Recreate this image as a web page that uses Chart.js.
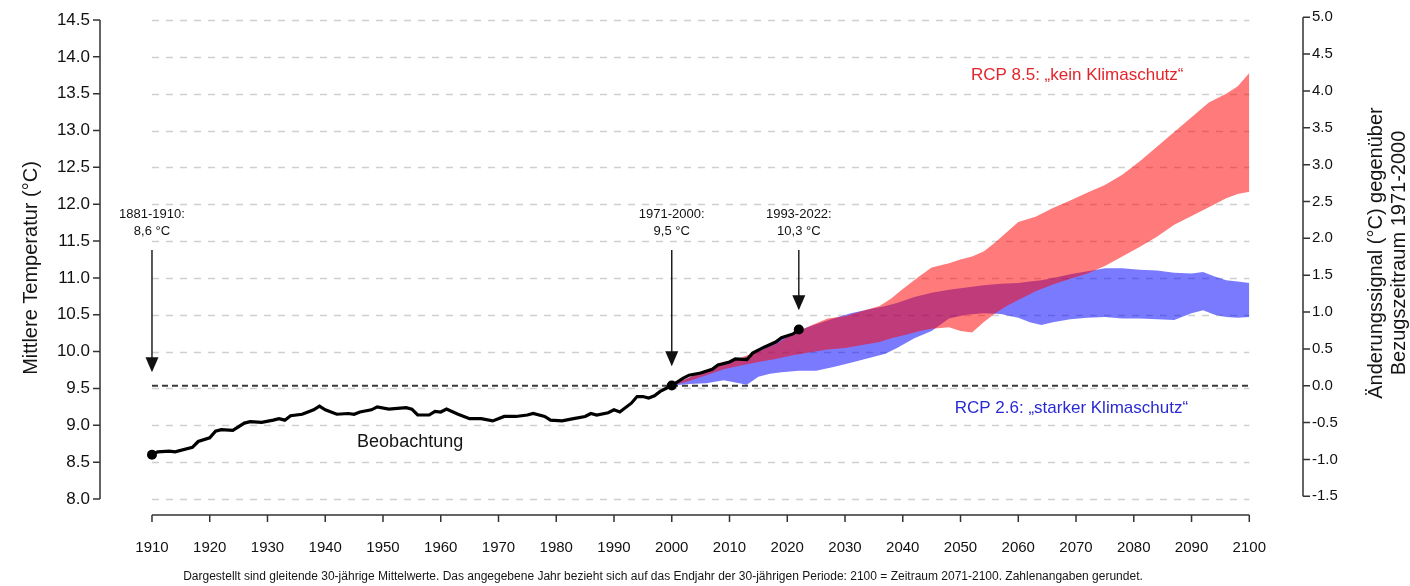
<!DOCTYPE html>
<html lang="de">
<head>
<meta charset="utf-8">
<script src="https://cdn.jsdelivr.net/npm/chart.js@4.4.1/dist/chart.umd.min.js"></script>
<style>
  html, body { margin: 0; padding: 0; background: #fff; }
  #wrap { width: 1410px; height: 586px; }
</style>
</head>
<body>
<div id="wrap"><canvas id="chart" width="1410" height="586"></canvas></div>
<script>
// observed 30-year running means (end year of period)
const obsYears = [1910, 1911, 1913, 1914, 1917, 1918, 1920, 1921, 1922, 1924, 1926, 1927, 1929, 1931, 1932, 1933, 1934, 1936, 1938, 1939,
  1940, 1942, 1944, 1945, 1946, 1948, 1949, 1951, 1954, 1955, 1956, 1958, 1959, 1960, 1961, 1963, 1965, 1967, 1969, 1971,
  1973, 1975, 1976, 1978, 1979, 1981, 1983, 1985, 1986, 1987, 1989, 1990, 1991, 1993, 1994, 1995, 1996, 1997, 1998, 2000,
  2002, 2003, 2005, 2007, 2008, 2010, 2011, 2013, 2014, 2016, 2018, 2019, 2021, 2022];
const obsTemp = [8.60, 8.64, 8.65, 8.64, 8.70, 8.78, 8.83, 8.92, 8.94, 8.93, 9.03, 9.05, 9.04, 9.07, 9.09, 9.07, 9.13, 9.15, 9.21, 9.26,
  9.21, 9.15, 9.16, 9.15, 9.18, 9.21, 9.25, 9.22, 9.24, 9.22, 9.14, 9.14, 9.19, 9.18, 9.22, 9.15, 9.09, 9.09, 9.06, 9.12,
  9.12, 9.14, 9.16, 9.12, 9.07, 9.06, 9.09, 9.12, 9.16, 9.14, 9.17, 9.21, 9.18, 9.30, 9.39, 9.39, 9.37, 9.40, 9.46, 9.54,
  9.64, 9.68, 9.71, 9.76, 9.82, 9.86, 9.90, 9.89, 9.98, 10.06, 10.13, 10.19, 10.24, 10.30];
const markedYears = [1910, 2000, 2022];

// RCP 8.5 range
const rcp85Years = [2000, 2003, 2006, 2009, 2012, 2015, 2018, 2021, 2024, 2027, 2030, 2033, 2036, 2038, 2040, 2043, 2045, 2048, 2050,
  2052, 2054, 2056, 2058, 2060, 2063, 2066, 2069, 2072, 2075, 2078, 2081, 2084, 2087, 2090, 2093, 2096, 2098, 2100];
const rcp85Upper = [9.54, 9.65, 9.75, 9.84, 9.92, 10.00, 10.10, 10.24, 10.35, 10.45, 10.48, 10.55, 10.62, 10.72, 10.85, 11.03, 11.14, 11.20, 11.25,
  11.29, 11.36, 11.48, 11.62, 11.76, 11.83, 11.95, 12.05, 12.16, 12.26, 12.40, 12.58, 12.78, 12.98, 13.18, 13.38, 13.50, 13.60, 13.78];
const rcp85Lower = [9.54, 9.60, 9.68, 9.76, 9.81, 9.86, 9.90, 9.95, 9.99, 10.03, 10.05, 10.09, 10.13, 10.18, 10.22, 10.28, 10.31, 10.33, 10.28,
  10.26, 10.40, 10.52, 10.62, 10.70, 10.82, 10.91, 10.99, 11.06, 11.16, 11.29, 11.42, 11.56, 11.72, 11.84, 11.96, 12.08, 12.14, 12.17];

// RCP 2.6 range
const rcp26Years = [2000, 2003, 2006, 2009, 2011, 2013, 2015, 2017, 2019, 2022, 2025, 2028, 2031, 2034, 2037, 2039, 2042, 2045, 2048, 2051,
  2054, 2057, 2060, 2062, 2064, 2066, 2069, 2072, 2075, 2078, 2081, 2084, 2087, 2090, 2092, 2094, 2096, 2098, 2100];
const rcp26Upper = [9.54, 9.65, 9.74, 9.83, 9.88, 9.93, 10.00, 10.08, 10.17, 10.29, 10.37, 10.45, 10.52, 10.57, 10.62, 10.66, 10.74, 10.80, 10.84, 10.87,
  10.90, 10.92, 10.93, 10.95, 10.97, 11.00, 11.05, 11.09, 11.13, 11.13, 11.11, 11.10, 11.07, 11.06, 11.08, 11.02, 10.97, 10.95, 10.93];
const rcp26Lower = [9.54, 9.56, 9.57, 9.61, 9.58, 9.55, 9.66, 9.70, 9.72, 9.74, 9.74, 9.79, 9.85, 9.91, 9.97, 10.05, 10.18, 10.28, 10.45, 10.50,
  10.52, 10.51, 10.46, 10.40, 10.36, 10.40, 10.44, 10.46, 10.47, 10.45, 10.45, 10.44, 10.43, 10.52, 10.56, 10.50, 10.47, 10.46, 10.47];

const yearTicks = [1910, 1920, 1930, 1940, 1950, 1960, 1970, 1980, 1990, 2000, 2010, 2020, 2030, 2040, 2050, 2060, 2070, 2080, 2090, 2100];
const tempTicks = [8.0, 8.5, 9.0, 9.5, 10.0, 10.5, 11.0, 11.5, 12.0, 12.5, 13.0, 13.5, 14.0, 14.5];
const signalTicks = [-1.5, -1.0, -0.5, 0.0, 0.5, 1.0, 1.5, 2.0, 2.5, 3.0, 3.5, 4.0, 4.5, 5.0];

const baseline = 9.537; // 1971-2000 mean, zero of the right axis
const yMin = 7.783, yMax = 14.771;

const callouts = [
  { year: 1910, lines: ['1881-1910:', '8,6 °C'], top: 11.38, tip: 9.72 },
  { year: 2000, lines: ['1971-2000:', '9,5 °C'], top: 11.38, tip: 9.80 },
  { year: 2022, lines: ['1993-2022:', '10,3 °C'], top: 11.38, tip: 10.56 }
];
const seriesLabels = [
  { text: 'Beobachtung', year: 1954.7, value: 8.77, color: '#151515', size: 18 },
  { text: 'RCP 8.5: „kein Klimaschutz“', year: 2070.2, value: 13.75, color: '#e3252b', size: 17 },
  { text: 'RCP 2.6: „starker Klimaschutz“', year: 2069.2, value: 9.235, color: '#2a2ad4', size: 17 }
];
const footnote = 'Dargestellt sind gleitende 30-jährige Mittelwerte. Das angegebene Jahr bezieht sich auf das Endjahr der 30-jährigen Periode: 2100 = Zeitraum 2071-2100. Zahlenangaben gerundet.';

const FONT = '"Liberation Sans", Arial, sans-serif';
const toPoints = (xs, ys) => xs.map((x, i) => ({ x: x, y: ys[i] }));

const decorations = {
  id: 'decorations',
  beforeDatasetsDraw(chart) {
    const { ctx, scales } = chart;
    const x = scales.x, y = scales.y;
    const x0 = x.getPixelForValue(yearTicks[0]);
    const x1 = x.getPixelForValue(yearTicks[yearTicks.length - 1]);
    ctx.save();
    ctx.strokeStyle = '#cfcfcf';
    ctx.lineWidth = 1.5;
    ctx.setLineDash([7, 7]);
    tempTicks.forEach(v => {
      const py = Math.round(y.getPixelForValue(v)) + 0.5;
      ctx.beginPath();
      ctx.moveTo(x0, py);
      ctx.lineTo(x1, py);
      ctx.stroke();
    });
    // zero line of the change signal
    ctx.strokeStyle = '#3a3a3a';
    ctx.lineWidth = 2;
    ctx.setLineDash([6, 4]);
    const pz = scales.y2.getPixelForValue(0);
    ctx.beginPath();
    ctx.moveTo(x0, pz);
    ctx.lineTo(x1, pz);
    ctx.stroke();
    ctx.restore();
  },
  afterDatasetsDraw(chart) {
    const { ctx, scales } = chart;
    const x = scales.x, y = scales.y, y2 = scales.y2;
    const area = chart.chartArea;
    ctx.save();
    ctx.strokeStyle = '#333';
    ctx.lineWidth = 1.5;
    ctx.setLineDash([]);

    // left axis
    let ax = area.left;
    ctx.beginPath();
    ctx.moveTo(ax, y.getPixelForValue(tempTicks[0]));
    ctx.lineTo(ax, y.getPixelForValue(tempTicks[tempTicks.length - 1]));
    tempTicks.forEach(v => {
      const py = y.getPixelForValue(v);
      ctx.moveTo(ax, py);
      ctx.lineTo(ax - 7, py);
    });
    ctx.stroke();

    // right axis
    ax = area.right;
    ctx.beginPath();
    ctx.moveTo(ax, y2.getPixelForValue(signalTicks[0]));
    ctx.lineTo(ax, y2.getPixelForValue(signalTicks[signalTicks.length - 1]));
    signalTicks.forEach(v => {
      const py = y2.getPixelForValue(v);
      ctx.moveTo(ax, py);
      ctx.lineTo(ax + 7, py);
    });
    ctx.stroke();

    // bottom axis
    const ay = area.bottom;
    ctx.beginPath();
    ctx.moveTo(x.getPixelForValue(yearTicks[0]), ay);
    ctx.lineTo(x.getPixelForValue(yearTicks[yearTicks.length - 1]), ay);
    yearTicks.forEach(v => {
      const px = x.getPixelForValue(v);
      ctx.moveTo(px, ay);
      ctx.lineTo(px, ay + 7);
    });
    ctx.stroke();

    // callout arrows
    ctx.fillStyle = '#111';
    ctx.strokeStyle = '#111';
    ctx.lineWidth = 1.4;
    ctx.font = '13px ' + FONT;
    ctx.textAlign = 'center';
    ctx.textBaseline = 'middle';
    callouts.forEach(c => {
      const px = x.getPixelForValue(c.year);
      const pTop = y.getPixelForValue(c.top);
      const pTip = y.getPixelForValue(c.tip);
      ctx.beginPath();
      ctx.moveTo(px, pTop);
      ctx.lineTo(px, pTip - 12);
      ctx.stroke();
      ctx.beginPath();
      ctx.moveTo(px - 6.5, pTip - 15);
      ctx.lineTo(px + 6.5, pTip - 15);
      ctx.lineTo(px, pTip);
      ctx.closePath();
      ctx.fill();
      ctx.fillText(c.lines[0], px, pTop - 35);
      ctx.fillText(c.lines[1], px, pTop - 18);
    });

    seriesLabels.forEach(l => {
      ctx.fillStyle = l.color;
      ctx.font = l.size + 'px ' + FONT;
      ctx.fillText(l.text, x.getPixelForValue(l.year), y.getPixelForValue(l.value));
    });
    ctx.restore();
  },
  afterDraw(chart) {
    const { ctx } = chart;
    ctx.save();
    ctx.fillStyle = '#151515';
    ctx.textAlign = 'center';
    ctx.textBaseline = 'middle';
    ctx.font = '20px ' + FONT;
    ctx.save();
    ctx.translate(31, 268);
    ctx.rotate(-Math.PI / 2);
    ctx.fillText('Mittlere Temperatur (°C)', 0, 0);
    ctx.restore();
    ctx.save();
    ctx.translate(1376, 253);
    ctx.rotate(-Math.PI / 2);
    ctx.fillText('Änderungssignal (°C) gegenüber', 0, 0);
    ctx.fillText('Bezugszeitraum 1971-2000', 0, 23);
    ctx.restore();
    ctx.font = '12px ' + FONT;
    ctx.fillText(footnote, 663, 577);
    ctx.restore();
  }
};

const band = (data, color, fill, order) => ({
  data: data,
  borderWidth: 0,
  borderColor: 'transparent',
  backgroundColor: color,
  pointRadius: 0,
  fill: fill,
  order: order,
  yAxisID: 'y'
});

// keep the plot box fixed: no extra room for half labels
const noPad = s => { s.paddingTop = 0; s.paddingBottom = 0; s.paddingLeft = 0; s.paddingRight = 0; };

new Chart(document.getElementById('chart'), {
  type: 'line',
  data: {
    datasets: [
      {
        label: 'Beobachtung',
        data: toPoints(obsYears, obsTemp),
        borderColor: '#000',
        borderWidth: 3.2,
        backgroundColor: '#000',
        pointRadius: ctx => (ctx.raw && markedYears.includes(ctx.raw.x) ? 5 : 0),
        pointBorderWidth: 0,
        fill: false,
        order: 0,
        yAxisID: 'y'
      },
      band(toPoints(rcp85Years, rcp85Upper), 'rgba(255, 0, 0, 0.52)', '+1', 1),
      band(toPoints(rcp85Years, rcp85Lower), 'rgba(255, 0, 0, 0.52)', false, 1),
      band(toPoints(rcp26Years, rcp26Upper), 'rgba(0, 0, 255, 0.52)', '+1', 2),
      band(toPoints(rcp26Years, rcp26Lower), 'rgba(0, 0, 255, 0.52)', false, 2)
    ]
  },
  options: {
    responsive: false,
    animation: false,
    layout: { padding: 0, autoPadding: false },
    plugins: { legend: { display: false }, tooltip: { enabled: false } },
    scales: {
      x: {
        type: 'linear',
        min: 1901,
        max: 2109.3,
        grid: { display: false, drawTicks: false },
        border: { display: false },
        ticks: {
          padding: 24,
          color: '#111',
          font: { size: 15, family: FONT },
          maxRotation: 0,
          autoSkip: false,
          callback: v => String(v)
        },
        afterBuildTicks: s => { s.ticks = yearTicks.map(v => ({ value: v })); },
        afterFit: s => { s.height = 71; noPad(s); }
      },
      y: {
        position: 'left',
        min: yMin,
        max: yMax,
        grid: { display: false, drawTicks: false },
        border: { display: false },
        ticks: {
          padding: 10,
          color: '#111',
          font: { size: 17, family: FONT },
          callback: v => v.toFixed(1)
        },
        afterBuildTicks: s => { s.ticks = tempTicks.map(v => ({ value: v })); },
        afterFit: s => { s.width = 100; noPad(s); }
      },
      y2: {
        position: 'right',
        min: yMin - baseline,
        max: yMax - baseline,
        grid: { display: false, drawTicks: false },
        border: { display: false },
        ticks: {
          padding: 9,
          color: '#111',
          font: { size: 15, family: FONT },
          callback: v => v.toFixed(1)
        },
        afterBuildTicks: s => { s.ticks = signalTicks.map(v => ({ value: v })); },
        afterFit: s => { s.width = 107; noPad(s); }
      }
    }
  },
  plugins: [decorations]
});
</script>
</body>
</html>
